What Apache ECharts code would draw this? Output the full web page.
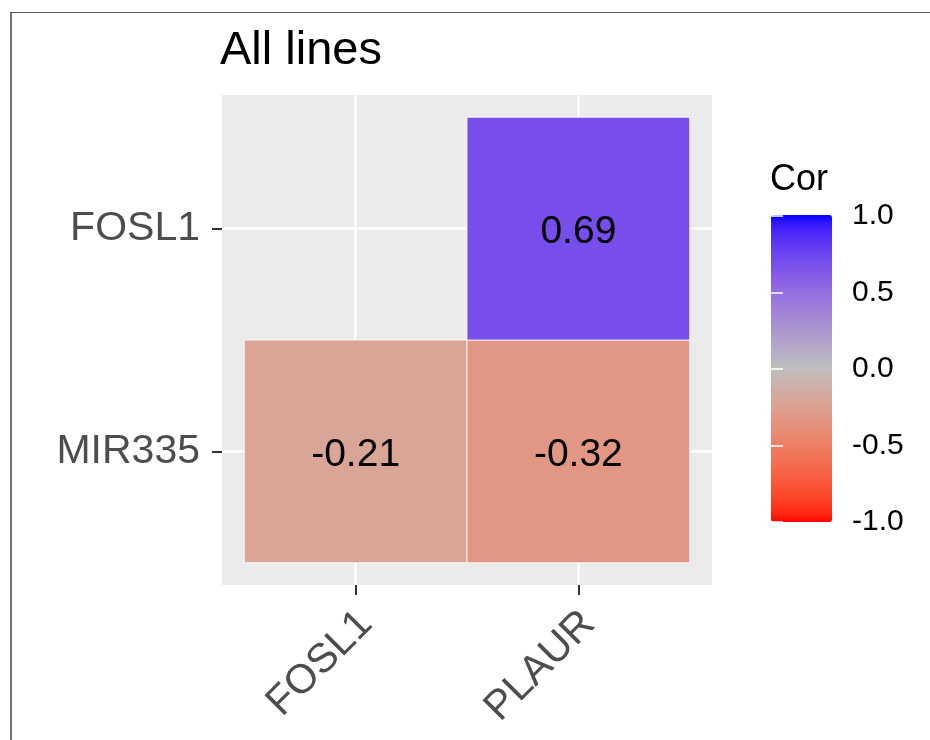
<!DOCTYPE html>
<html>
<head>
<meta charset="utf-8">
<script src="https://cdn.jsdelivr.net/npm/echarts@6/dist/echarts.min.js"></script>
<style>
  html, body { margin: 0; padding: 0; background: #ffffff; }
  #chart { width: 930px; height: 740px; }
</style>
</head>
<body>
<div id="chart"></div>
<script>
// ---- data ----
const titleText = 'All lines';
const legendTitle = 'Cor';
const xCategories = ['FOSL1', 'PLAUR'];
const yCategories = ['MIR335', 'FOSL1'];   // bottom to top
// [x index, y index, correlation]
const cellX = [0, 1, 1];
const cellY = [0, 0, 1];
const cellValues = [-0.21, -0.32, 0.69];
const legendTicks = [-1.0, -0.5, 0.0, 0.5, 1.0];

// ---- colour scale (Lab interpolation: red -> grey -> blue, like ggplot gradient2) ----
function lin(c) { c /= 255; return c <= 0.04045 ? c / 12.92 : Math.pow((c + 0.055) / 1.055, 2.4); }
function unlin(c) { const v = c <= 0.0031308 ? 12.92 * c : 1.055 * Math.pow(c, 1 / 2.4) - 0.055; return Math.max(0, Math.min(255, Math.round(v * 255))); }
function hexToRgb(h) { return [parseInt(h.substr(1, 2), 16), parseInt(h.substr(3, 2), 16), parseInt(h.substr(5, 2), 16)]; }
function toLab(hex) {
  const [r, g, b] = hexToRgb(hex).map(lin);
  const X = (0.4124 * r + 0.3576 * g + 0.1805 * b) / 0.95047;
  const Y = (0.2126 * r + 0.7152 * g + 0.0722 * b);
  const Z = (0.0193 * r + 0.1192 * g + 0.9505 * b) / 1.08883;
  const f = t => t > 0.008856 ? Math.cbrt(t) : 7.787 * t + 16 / 116;
  const fx = f(X), fy = f(Y), fz = f(Z);
  return [116 * fy - 16, 500 * (fx - fy), 200 * (fy - fz)];
}
function fromLab([L, a, b]) {
  const fy = (L + 16) / 116, fx = fy + a / 500, fz = fy - b / 200;
  const inv = t => t * t * t > 0.008856 ? t * t * t : (t - 16 / 116) / 7.787;
  const X = inv(fx) * 0.95047, Y = inv(fy), Z = inv(fz) * 1.08883;
  const r = 3.2406 * X - 1.5372 * Y - 0.4986 * Z;
  const g = -0.9689 * X + 1.8758 * Y + 0.0415 * Z;
  const bb = 0.0557 * X - 0.2040 * Y + 1.0570 * Z;
  return 'rgb(' + unlin(r) + ',' + unlin(g) + ',' + unlin(bb) + ')';
}
const lowLab = toLab('#FF0000'), midLab = toLab('#BEBEBE'), highLab = toLab('#0000FF');
const scaleColors = [];
for (let i = 0; i <= 40; i++) {
  const v = -1 + i * 0.05;
  const [A, B, t] = v < 0 ? [midLab, lowLab, -v] : [midLab, highLab, v];
  scaleColors.push(fromLab([0, 1, 2].map(k => A[k] + (B[k] - A[k]) * t)));
}

const cellData = cellValues.map((v, i) => [cellX[i] + 1, cellY[i] + 1, v]);
const FONT = "'Liberation Sans', Arial, Helvetica, sans-serif";

const chart = echarts.init(document.getElementById('chart'), null, { renderer: 'canvas' });
chart.setOption({
  backgroundColor: '#ffffff',
  animation: false,
  title: [
    { text: titleText, left: 220, top: 28, padding: 0,
      textStyle: { fontFamily: FONT, fontSize: 47, fontWeight: 'normal', color: '#000000' } },
    { text: legendTitle, left: 770, top: 162, padding: 0,
      textStyle: { fontFamily: FONT, fontSize: 36, fontWeight: 'normal', color: '#000000' } }
  ],
  grid: [
    { left: 222, top: 95, width: 490, height: 490, show: true, backgroundColor: '#EBEBEB', borderWidth: 0 },
    { left: 771, top: 216, width: 61, height: 306, show: false }
  ],
  xAxis: [
    {
      type: 'value', gridIndex: 0, min: 0.4, max: 2.6,
      axisLine: { show: false },
      axisTick: { show: true, customValues: [1, 2], length: 10, lineStyle: { color: '#333333', width: 2 } },
      axisLabel: {
        customValues: [1, 2], rotate: 45, align: 'right', verticalAlign: 'top', margin: 14,
        padding: [0, 6, 0, 0],
        formatter: v => xCategories[Math.round(v) - 1] || '',
        fontFamily: FONT, fontSize: 41, color: '#4D4D4D'
      },
      splitLine: { show: true, lineStyle: { color: '#ffffff', width: 2.5 } }
    },
    { type: 'value', gridIndex: 1, min: 0, max: 1, show: false }
  ],
  yAxis: [
    {
      type: 'value', gridIndex: 0, min: 0.4, max: 2.6,
      axisLine: { show: false },
      axisTick: { show: true, customValues: [1, 2], length: 10, lineStyle: { color: '#333333', width: 2 } },
      axisLabel: {
        customValues: [1, 2], margin: 22, padding: [7, 0, 0, 0],
        formatter: v => yCategories[Math.round(v) - 1] || '',
        fontFamily: FONT, fontSize: 41, color: '#4D4D4D'
      },
      splitLine: { show: true, lineStyle: { color: '#ffffff', width: 2.5 } }
    },
    {
      type: 'value', gridIndex: 1, min: -1, max: 1, position: 'right', z: 20,
      axisLine: { show: false },
      axisTick: { show: true, inside: true, customValues: legendTicks, length: 12, lineStyle: { color: '#ffffff', width: 1.5 } },
      axisLabel: {
        customValues: legendTicks, margin: 20, padding: [5, 0, 0, 0],
        formatter: v => v.toFixed(1),
        fontFamily: FONT, fontSize: 30, color: '#000000'
      },
      splitLine: { show: false }
    },
    {
      type: 'value', gridIndex: 1, min: -1, max: 1, position: 'left', z: 20,
      axisLine: { show: false },
      axisTick: { show: true, inside: true, customValues: legendTicks, length: 12, lineStyle: { color: '#ffffff', width: 1.5 } },
      axisLabel: { show: false },
      splitLine: { show: false }
    }
  ],
  visualMap: {
    type: 'continuous', min: -1, max: 1, dimension: 2, seriesIndex: 0,
    calculable: false, hoverLink: false, orient: 'vertical',
    left: 771, top: 215, itemWidth: 61, itemHeight: 307, padding: 0,
    text: null, showLabel: false,
    inRange: { color: scaleColors }
  },
  series: [
    {
      type: 'custom', xAxisIndex: 0, yAxisIndex: 0, z: 5,
      data: cellData,
      encode: { x: 0, y: 1 },
      renderItem: function (params, api) {
        const x = api.value(0), y = api.value(1), v = api.value(2);
        const p0 = api.coord([x - 0.5, y + 0.5]);
        const p1 = api.coord([x + 0.5, y - 0.5]);
        return {
          type: 'group',
          children: [
            { type: 'rect', shape: { x: p0[0], y: p0[1], width: p1[0] - p0[0], height: p1[1] - p0[1] },
              style: { fill: api.visual('color'), stroke: '#ffffff', lineWidth: 0.8, opacity: 1 } },
            { type: 'text', x: (p0[0] + p1[0]) / 2, y: (p0[1] + p1[1]) / 2 + 4,
              style: { text: v.toFixed(2), fill: '#000000', font: '39px ' + FONT, align: 'center', verticalAlign: 'middle' } }
          ]
        };
      }
    }
  ],
  graphic: [
    { type: 'line', shape: { x1: 11, y1: 12.5, x2: 930, y2: 12.5 }, style: { stroke: '#5a5a5a', lineWidth: 1.2 }, z: 100 },
    { type: 'line', shape: { x1: 11, y1: 12, x2: 11, y2: 740 }, style: { stroke: '#111111', lineWidth: 1.2 }, z: 100 }
  ]
});
</script>
</body>
</html>
